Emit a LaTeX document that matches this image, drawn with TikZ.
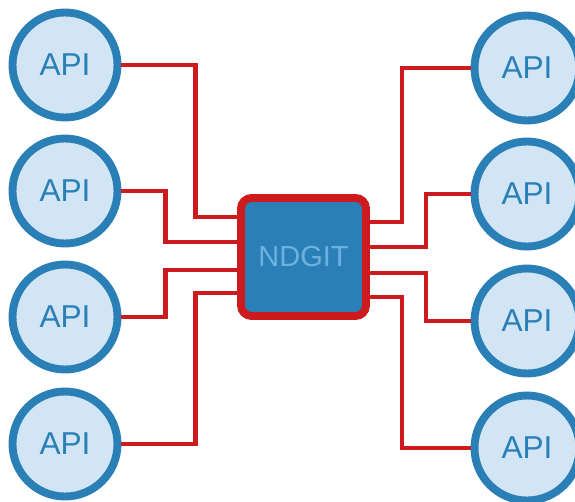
\documentclass[tikz,border=0pt]{standalone}
\usepackage{fontspec}
\setmainfont{Liberation Sans}
\definecolor{apiblue}{HTML}{2A7FB6}
\definecolor{apifill}{HTML}{D1E5F4}
\definecolor{hubtext}{HTML}{6DB1E0}
\definecolor{wirered}{HTML}{CC1A1D}
\usetikzlibrary{positioning}

\begin{document}
\begin{tikzpicture}[
    api/.style={
      circle, draw=apiblue, fill=apifill, line width=4.5pt,
      minimum size=2.1cm, inner sep=0pt,
      text=apiblue, font=\fontsize{18}{18}\selectfont
    },
    hub/.style={
      rectangle, rounded corners=6pt,
      draw=wirered, fill=apiblue, line width=4.5pt,
      minimum width=2.5cm, minimum height=2.36cm,
      text=hubtext, font=\fontsize{16.5}{16.5}\selectfont
    },
    wire/.style={draw=wirered, line width=2.8pt}
  ]
    \useasboundingbox (0,0) rectangle (11.5,-10.02);

    \node[api] (left1)  at (1.30,-1.30)  {API};
    \node[api] (left2)  at (1.30,-3.82)  {API};
    \node[api] (left3)  at (1.30,-6.34)  {API};
    \node[api] (left4)  at (1.30,-8.88)  {API};
    \node[api] (right1) at (10.54,-1.36) {API};
    \node[api] (right2) at (10.54,-3.88) {API};
    \node[api] (right3) at (10.54,-6.42) {API};
    \node[api] (right4) at (10.54,-8.96) {API};

    \node[hub] (hub) at (6.07,-5.14) {NDGIT};

    \draw[wire] ([yshift=0.80cm]hub.west)  -- ++(-0.84,0) |- (left1.east);
    \draw[wire] ([yshift=0.30cm]hub.west)  -- ++(-1.44,0) |- (left2.east);
    \draw[wire] ([yshift=-0.26cm]hub.west) -- ++(-1.44,0) |- (left3.east);
    \draw[wire] ([yshift=-0.72cm]hub.west) -- ++(-0.84,0) |- (left4.east);

    \draw[wire] ([yshift=0.70cm]hub.east)  -- ++(0.64,0) |- (right1.west);
    \draw[wire] ([yshift=0.20cm]hub.east)  -- ++(1.12,0) |- (right2.west);
    \draw[wire] ([yshift=-0.32cm]hub.east) -- ++(1.12,0) |- (right3.west);
    \draw[wire] ([yshift=-0.80cm]hub.east) -- ++(0.64,0) |- (right4.west);
  \end{tikzpicture}
\end{document}
